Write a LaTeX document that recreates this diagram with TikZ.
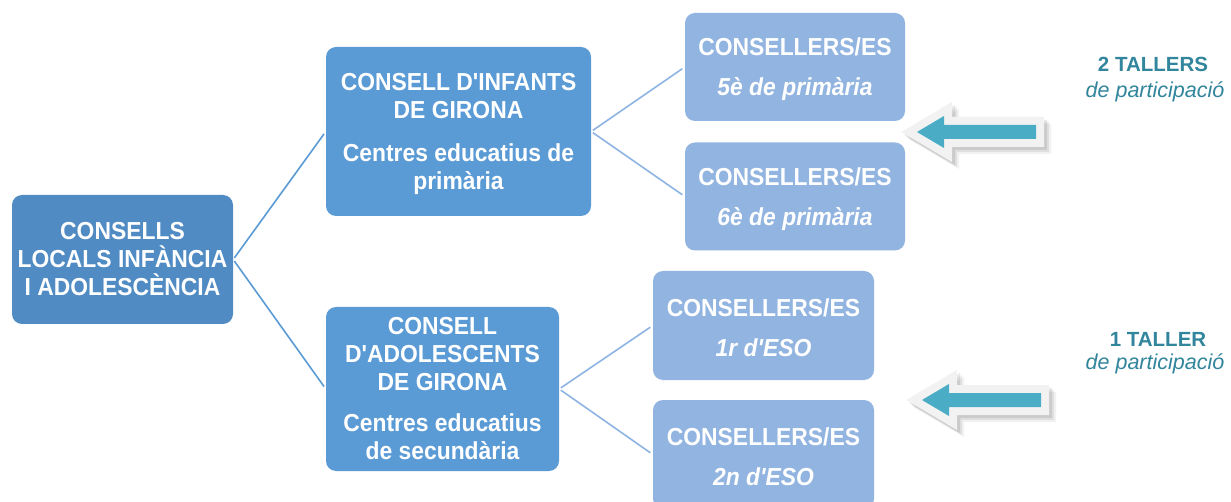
\documentclass[tikz,border=0pt]{standalone}
\usepackage{fontspec}
\setmainfont{Liberation Sans}[Ligatures=TeXOff, FakeStretch=0.93]
\newfontfamily\plainsans{Liberation Sans}[Ligatures=TeXOff]
\definecolor{rootblue}{RGB}{80,139,195}
\definecolor{midblue}{RGB}{91,155,213}
\definecolor{leafblue}{RGB}{146,180,224}
\definecolor{lineA}{RGB}{91,155,213}
\definecolor{lineB}{RGB}{142,180,227}
\definecolor{arrowteal}{RGB}{75,172,198}
\definecolor{arrowgray}{RGB}{242,242,242}
\definecolor{tealtext}{RGB}{49,133,156}
\def\arrowpath{(0,0) -- (27,-16) -- (27,-7) -- (119,-7) -- (119,7) -- (27,7) -- (27,16) -- cycle}
\newcommand{\lowertext}[2]{\raisebox{-2.5pt}[\height][\depth]{\parbox{#1}{\centering #2}}}
\tikzset{
  box/.style={rounded corners=10pt, inner sep=0pt, text=white, align=center,
    font=\bfseries\fontsize{24.6}{28}\selectfont},
  rootbox/.style={box, fill=rootblue},
  midbox/.style={box, fill=midblue},
  leafbox/.style={box, fill=leafblue, minimum width=220pt, minimum height=108pt},
  connA/.style={draw=lineA, line width=1.6pt, shorten <=2pt, shorten >=3pt},
  connB/.style={draw=lineB, line width=1.6pt, shorten <=2pt, shorten >=3pt},
  tallerhead/.style={anchor=base, text=tealtext, font=\plainsans\bfseries\fontsize{20.5}{24}\selectfont},
  tallersub/.style={anchor=base, text=tealtext, font=\plainsans\itshape\fontsize{21.5}{25}\selectfont},
  blockarrow/.pic={
    \foreach \s/\o in {7/0.05,5/0.07,3/0.09}{
      \draw[line width=16pt, line join=miter, draw=black, opacity=\o, xshift=\s pt, yshift=-\s pt] \arrowpath;
    }
    \draw[line width=16pt, line join=miter, draw=arrowgray] \arrowpath;
    \fill[arrowteal] \arrowpath;
  }
}
\begin{document}
\begin{tikzpicture}[x=1pt,y=-1pt]
\fill[white] (0,0) rectangle (1231,502);
\useasboundingbox (0,0) rectangle (1231,502);

\node[rootbox, minimum width=221pt, minimum height=129pt] (root) at (122.5,259.5)
  {CONSELLS\\LOCALS INFÀNCIA\\I ADOLESCÈNCIA};

\node[midbox, minimum width=265pt, minimum height=169pt] (inf) at (458.5,131.5)
  {\lowertext{265pt}{CONSELL D'INFANTS\\DE GIRONA\\[15pt]Centres educatius de\\primària}};
\node[midbox, minimum width=233pt, minimum height=164pt] (ado) at (442.5,389)
  {CONSELL\\D'ADOLESCENTS\\DE GIRONA\\[13pt]Centres educatius\\de secundària};

\node[leafbox] (p5) at (795,67) {\lowertext{220pt}{CONSELLERS/ES\\[12pt]\itshape 5è de primària}};
\node[leafbox] (p6) at (795,196.5) {\lowertext{220pt}{CONSELLERS/ES\\[12pt]\itshape 6è de primària}};
\node[leafbox, minimum width=221pt, minimum height=109pt] (e1) at (763.5,325.5) {\lowertext{221pt}{CONSELLERS/ES\\[12pt]\itshape 1r d'ESO}};
\node[leafbox, minimum width=221pt, minimum height=109pt] (e2) at (763.5,454.5) {\lowertext{221pt}{CONSELLERS/ES\\[12pt]\itshape 2n d'ESO}};

\draw[connA] (root.east) -- (inf.west);
\draw[connA] (root.east) -- (ado.west);
\draw[connB] (inf.east) -- (p5.west);
\draw[connB] (inf.east) -- (p6.west);
\draw[connB] (ado.east) -- (e1.west);
\draw[connB] (ado.east) -- (e2.west);

\pic at (917,132) {blockarrow};
\pic at (922,400) {blockarrow};

\node[tallerhead] (t2) at (1153,72) {2 TALLERS};
\node[tallersub] (t2s) at (1155,98) {de participació};
\node[tallerhead] (t1) at (1158,347) {1 TALLER};
\node[tallersub] (t1s) at (1155,370) {de participació};
\end{tikzpicture}
\end{document}
